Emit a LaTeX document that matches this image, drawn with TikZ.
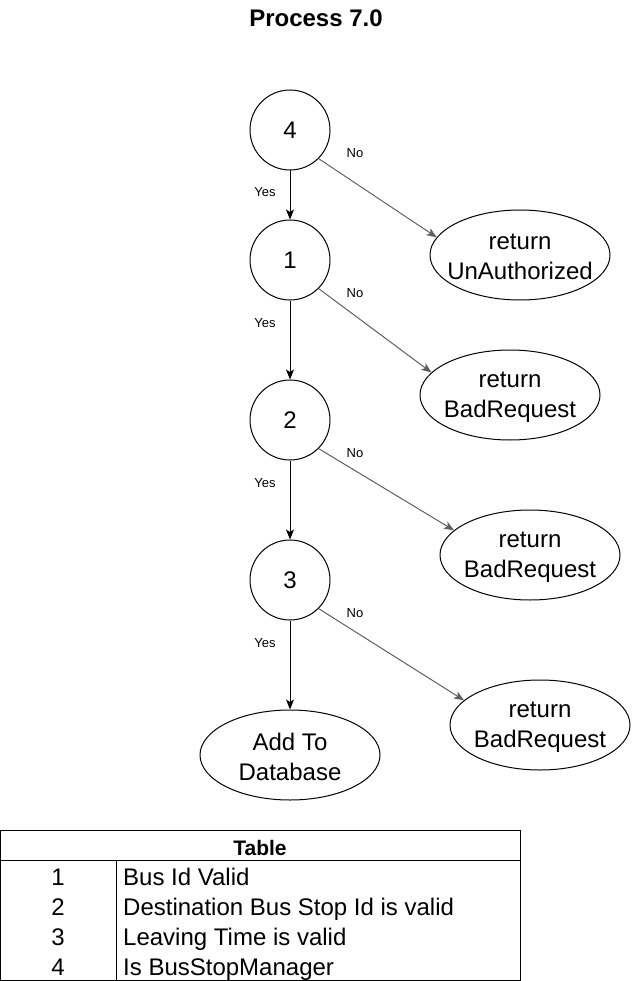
\documentclass[tikz,border=0pt]{standalone}
\usepackage{fontspec}
\setmainfont{Liberation Sans}
\usetikzlibrary{shapes.geometric,arrows.meta}
\definecolor{nogray}{RGB}{95,95,95}
\begin{document}
\begin{tikzpicture}[x=1pt,y=-1pt,
  dec/.style={circle,draw,line width=1pt,minimum size=80pt,inner sep=0pt,font=\fontsize{24}{29}\selectfont},
  res/.style={ellipse,draw,line width=1pt,minimum width=180pt,minimum height=90pt,inner sep=0pt},
  restext/.style={align=center,font=\fontsize{24}{30}\selectfont,inner sep=0pt},
  tip/.style={-{Stealth[length=10pt,width=8pt,inset=2.5pt]}},
  yesarrow/.style={draw=black,line width=1pt,tip},
  noarrow/.style={draw=nogray,line width=1pt,tip},
  lbl/.style={font=\fontsize{13}{15}\selectfont,inner sep=0pt},
  cell/.style={font=\fontsize{24}{29}\selectfont,inner sep=0pt,anchor=base},
  celltext/.style={font=\fontsize{24}{29}\selectfont,inner sep=0pt,anchor=base west},
]
\useasboundingbox (0,0) rectangle (631,981);

% title
\node[font=\bfseries\fontsize{24}{29}\selectfont,anchor=base,inner sep=0pt] (title) at (316,27) {Process 7.0};

% decisions
\node[dec] (c4) at (290,130) {4};
\node[dec] (c1) at (290,260) {1};
\node[dec] (c2) at (290,420) {2};
\node[dec] (c3) at (290,580) {3};

% results
\node[res] (u)  at (520,255) {};
\node[restext,yshift=-2pt] (ut) at (u) {return\\UnAuthorized};
\node[res] (b1) at (510,395) {};
\node[restext,yshift=-2pt] (b1t) at (b1) {return\\BadRequest};
\node[res] (b2) at (530,555) {};
\node[restext,yshift=-2pt] (b2t) at (b2) {return\\BadRequest};
\node[res] (b3) at (540,725) {};
\node[restext,yshift=-2pt] (b3t) at (b3) {return\\BadRequest};
\node[res] (db) at (290,755) {};
\node[restext,yshift=-2pt] (dbt) at (db) {Add To\\Database};

% yes arrows
\draw[yesarrow] (c4) -- (c1);
\draw[yesarrow] (c1) -- (c2);
\draw[yesarrow] (c2) -- (c3);
\draw[yesarrow] (c3) -- (db);

% no arrows
\draw[noarrow] (c4.-45) -- (u.168);
\draw[noarrow] (c1.-45) -- (b1.164);
\draw[noarrow] (c2.-45) -- (b2.162);
\draw[noarrow] (c3.-45) -- (b3.162);

% labels
\node[lbl] (y4) at (265,192) {Yes};
\node[lbl] (y1) at (265,323) {Yes};
\node[lbl] (y2) at (265,483) {Yes};
\node[lbl] (y3) at (265,643) {Yes};
\node[lbl] (n4) at (355,153) {No};
\node[lbl] (n1) at (355,293) {No};
\node[lbl] (n2) at (355,453) {No};
\node[lbl] (n3) at (355,613) {No};

% table
\draw[line width=1pt] (0.5,830.5) rectangle (520,980.5);
\draw[line width=1pt] (0.5,860.5) -- (520,860.5);
\draw[line width=1pt] (116.5,860.5) -- (116.5,980.5);
\node[font=\bfseries\fontsize{21}{25}\selectfont,anchor=base,inner sep=0pt] (th) at (260,855.5) {Table};
\node[cell] (r1) at (58,885) {1};
\node[cell] (r2) at (58,915) {2};
\node[cell] (r3) at (58,945) {3};
\node[cell] (r4) at (58,975) {4};
\node[celltext] (t1) at (123,885) {Bus Id Valid};
\node[celltext] (t2) at (123,915) {Destination Bus Stop Id is valid};
\node[celltext] (t3) at (123,945) {Leaving Time is valid};
\node[celltext] (t4) at (123,975) {Is BusStopManager};
\end{tikzpicture}
\end{document}
